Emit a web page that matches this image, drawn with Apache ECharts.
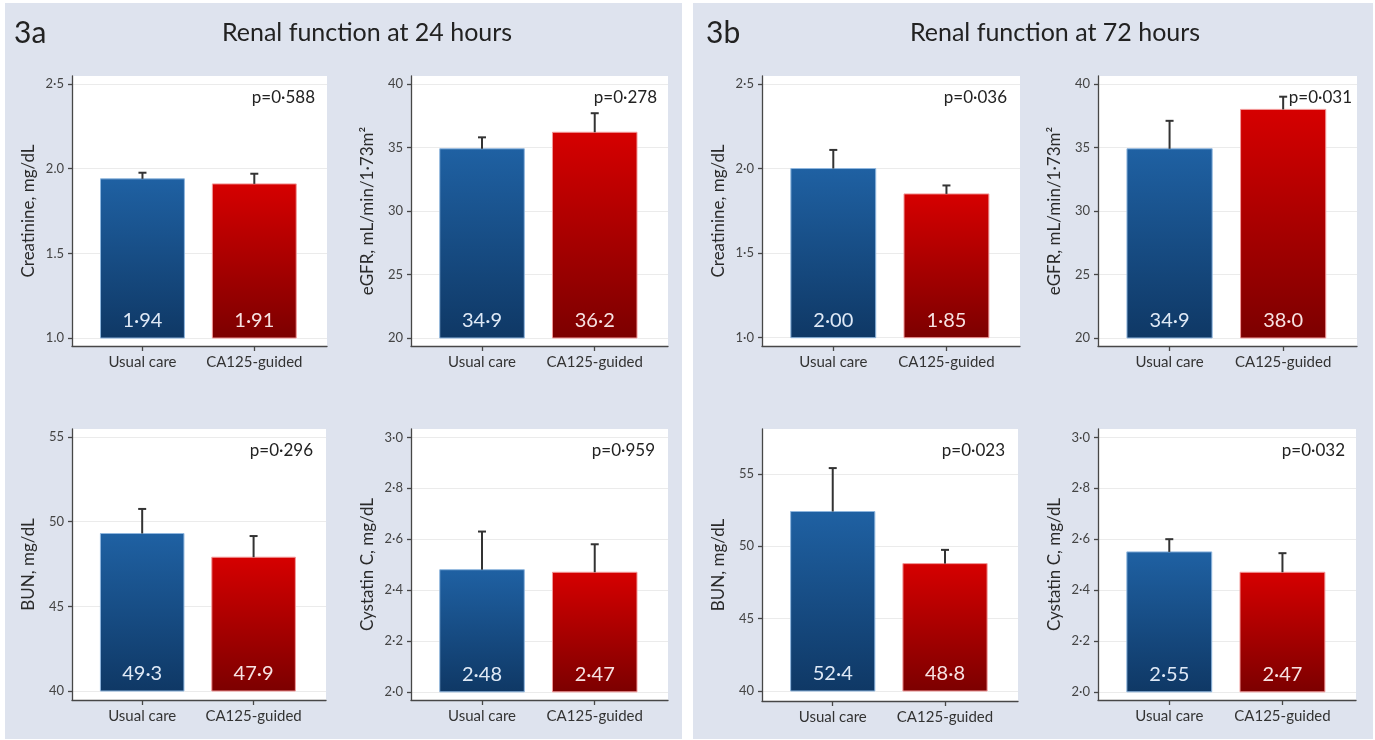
<!DOCTYPE html>
<html>
<head>
<meta charset="utf-8">
<script src="https://cdn.jsdelivr.net/npm/echarts@6/dist/echarts.min.js"></script>
<style>
  html, body { margin: 0; padding: 0; background: #fff; }
  #main { width: 1375px; height: 740px; }
</style>
</head>
<body>
<div id="main"></div>
<script>
// groups on the x axis
var groups = ['Usual care', 'CA125-guided'];

// 24 hours: bar values and upper end of the error bar
var creat24 = [1.94, 1.91];
var creat24Err = [1.976, 1.97];
var egfr24 = [34.9, 36.2];
var egfr24Err = [35.8, 37.7];
var bun24 = [49.3, 47.9];
var bun24Err = [50.75, 49.15];
var cys24 = [2.48, 2.47];
var cys24Err = [2.63, 2.58];

// 72 hours
var creat72 = [2.00, 1.85];
var creat72Err = [2.11, 1.90];
var egfr72 = [34.9, 38.0];
var egfr72Err = [37.1, 39.0];
var bun72 = [52.4, 48.8];
var bun72Err = [55.4, 49.75];
var cys72 = [2.55, 2.47];
var cys72Err = [2.60, 2.545];

var pValues24 = ['p=0·588', 'p=0·278', 'p=0·296', 'p=0·959'];
var pValues72 = ['p=0·036', 'p=0·031', 'p=0·023', 'p=0·032'];

// ticks and how they are printed
var creatTicks = [1.0, 1.5, 2.0, 2.5];
var creatLabels24 = ['1.0', '1.5', '2.0', '2·5'];
var creatLabels72 = ['1·0', '1·5', '2·0', '2·5'];
var egfrTicks = [20, 25, 30, 35, 40];
var egfrLabels = ['20', '25', '30', '35', '40'];
var bunTicks = [40, 45, 50, 55];
var bunLabels = ['40', '45', '50', '55'];
var cysTicks = [2.0, 2.2, 2.4, 2.6, 2.8, 3.0];
var cysLabels = ['2·0', '2·2', '2·4', '2·6', '2·8', '3·0'];

var FONT = 'Lato, "Open Sans", sans-serif';
var AXIS = '#474747';

// box = [left, top, right, bottom] of the white plot area
var panels = [
    { name: 'Creatinine, mg/dL', vals: creat24, err: creat24Err, ticks: creatTicks, labels: creatLabels24, min: 0.953, max: 2.547, dec: 2, p: pValues24[0], pr: 315, box: [72, 76, 327, 346] },
    { name: 'eGFR, mL/min/1·73m²', vals: egfr24, err: egfr24Err, ticks: egfrTicks, labels: egfrLabels, min: 19.37, max: 40.63, dec: 1, p: pValues24[1], pr: 657, box: [411, 76, 668, 346] },
    { name: 'BUN, mg/dL', vals: bun24, err: bun24Err, ticks: bunTicks, labels: bunLabels, min: 39.47, max: 55.47, dec: 1, p: pValues24[2], pr: 313, box: [72, 429, 326, 700] },
    { name: 'Cystatin C, mg/dL', vals: cys24, err: cys24Err, ticks: cysTicks, labels: cysLabels, min: 1.968, max: 3.033, dec: 2, p: pValues24[3], pr: 655, box: [411, 429, 668, 700] },
    { name: 'Creatinine, mg/dL', vals: creat72, err: creat72Err, ticks: creatTicks, labels: creatLabels72, min: 0.951, max: 2.547, dec: 2, p: pValues72[0], pr: 1007, box: [762, 76, 1020, 346] },
    { name: 'eGFR, mL/min/1·73m²', vals: egfr72, err: egfr72Err, ticks: egfrTicks, labels: egfrLabels, min: 19.37, max: 40.63, dec: 1, p: pValues72[1], pr: 1352, box: [1098, 76, 1357, 346] },
    { name: 'BUN, mg/dL', vals: bun72, err: bun72Err, ticks: bunTicks, labels: bunLabels, min: 39.31, max: 58.1, dec: 1, p: pValues72[2], pr: 1005, box: [762, 429, 1018, 701] },
    { name: 'Cystatin C, mg/dL', vals: cys72, err: cys72Err, ticks: cysTicks, labels: cysLabels, min: 1.968, max: 3.033, dec: 2, p: pValues72[3], pr: 1345, box: [1098, 429, 1356, 700] }
];

var barFill = [
    new echarts.graphic.LinearGradient(0, 0, 0, 1, [
        { offset: 0, color: '#1f61a3' }, { offset: 1, color: '#0f3865' }
    ]),
    new echarts.graphic.LinearGradient(0, 0, 0, 1, [
        { offset: 0, color: '#d60000' }, { offset: 1, color: '#7c0000' }
    ])
];
var barEdge = ['#8fb6de', '#f29a9a'];
var labelColor = ['#dfe9f6', '#f7e2e2'];

function tickText(p, v) {
    for (var k = 0; k < p.ticks.length; k++) {
        if (Math.abs(p.ticks[k] - v) < 1e-6) return p.labels[k];
    }
    return '';
}

var myChart = echarts.init(document.getElementById('main'));

var graphic = [
    { type: 'rect', z: -100, shape: { x: 5, y: 3, width: 677, height: 736 }, style: { fill: '#dee3ee' } },
    { type: 'rect', z: -100, shape: { x: 693, y: 3, width: 680, height: 736 }, style: { fill: '#dee3ee' } },
    { type: 'text', z: 100, x: 14, y: 33, style: { text: '3a', fontSize: 30, fontFamily: FONT, fill: '#222', verticalAlign: 'middle' } },
    { type: 'text', z: 100, x: 367, y: 33, style: { text: 'Renal function at 24 hours', fontSize: 25, fontFamily: FONT, fill: '#222', align: 'center', verticalAlign: 'middle' } },
    { type: 'text', z: 100, x: 706, y: 33, style: { text: '3b', fontSize: 30, fontFamily: FONT, fill: '#222', verticalAlign: 'middle' } },
    { type: 'text', z: 100, x: 1055, y: 33, style: { text: 'Renal function at 72 hours', fontSize: 25, fontFamily: FONT, fill: '#222', align: 'center', verticalAlign: 'middle' } }
];
panels.forEach(function (p) {
    graphic.push({
        type: 'text', z: 100, x: p.pr, y: p.box[1] + 22,
        style: { text: p.p, fontSize: 17, fontFamily: FONT, fill: '#222', align: 'right', verticalAlign: 'middle' }
    });
});

myChart.setOption({
    animation: false,
    textStyle: { fontFamily: FONT },
    graphic: graphic,
    grid: panels.map(function (p) {
        return {
            left: p.box[0], top: p.box[1],
            width: p.box[2] - p.box[0], height: p.box[3] - p.box[1],
            show: true, backgroundColor: '#fff', borderWidth: 0,
            containLabel: false, outerBoundsMode: 'none'
        };
    }),
    xAxis: panels.map(function (p, i) {
        return {
            gridIndex: i, type: 'value', min: 0.37, max: 2.65,
            axisLine: { show: true, onZero: false, lineStyle: { color: AXIS, width: 1.3 } },
            axisTick: { show: true, customValues: [1, 2], length: 5, lineStyle: { color: AXIS, width: 1.3 } },
            axisLabel: {
                customValues: [1, 2], margin: 9, fontSize: 15, color: '#333',
                formatter: function (v) { return groups[Math.round(v) - 1]; }
            },
            splitLine: { show: false }
        };
    }),
    yAxis: panels.map(function (p, i) {
        return {
            gridIndex: i, type: 'value', min: p.min, max: p.max,
            name: p.name, nameLocation: 'middle', nameGap: 35, nameRotate: 90,
            nameTextStyle: { fontSize: 17, color: '#2a2a2a' },
            axisLine: { show: true, onZero: false, lineStyle: { color: AXIS, width: 1.3 } },
            axisTick: { show: true, customValues: p.ticks, length: 4, lineStyle: { color: AXIS, width: 1.3 } },
            axisLabel: {
                customValues: p.ticks, margin: 8, fontSize: 13, color: '#444',
                formatter: function (v) { return tickText(p, v); }
            },
            splitLine: { show: true, lineStyle: { color: '#ebebeb', width: 1 } }
        };
    }),
    series: panels.map(function (p, i) {
        var lo = p.ticks[0];
        return {
            type: 'custom',
            xAxisIndex: i, yAxisIndex: i,
            encode: { x: 0, y: 1 },
            data: p.vals.map(function (v, j) { return [j + 1, v, p.err[j]]; }),
            renderItem: function (params, api) {
                var j = params.dataIndex;
                var x = api.value(0), v = api.value(1), e = api.value(2);
                var base = api.coord([x, lo]);
                var top = api.coord([x, v]);
                var errTop = api.coord([x, e]);
                var w = api.size([0.75, 0])[0];
                return {
                    type: 'group',
                    children: [
                        {
                            type: 'rect',
                            shape: { x: top[0] - w / 2, y: top[1], width: w, height: base[1] - top[1] },
                            style: { fill: barFill[j], stroke: barEdge[j], lineWidth: 1 }
                        },
                        {
                            type: 'line',
                            shape: { x1: top[0], y1: top[1], x2: top[0], y2: errTop[1] },
                            style: { stroke: '#333', lineWidth: 2 }
                        },
                        {
                            type: 'line',
                            shape: { x1: top[0] - 4, y1: errTop[1], x2: top[0] + 4, y2: errTop[1] },
                            style: { stroke: '#333', lineWidth: 2 }
                        },
                        {
                            type: 'text',
                            x: top[0], y: base[1] - 17,
                            style: {
                                text: v.toFixed(p.dec).replace('.', '·'),
                                fontSize: 20, fontFamily: FONT, fill: labelColor[j],
                                align: 'center', verticalAlign: 'middle'
                            }
                        }
                    ]
                };
            }
        };
    })
});
</script>
</body>
</html>
